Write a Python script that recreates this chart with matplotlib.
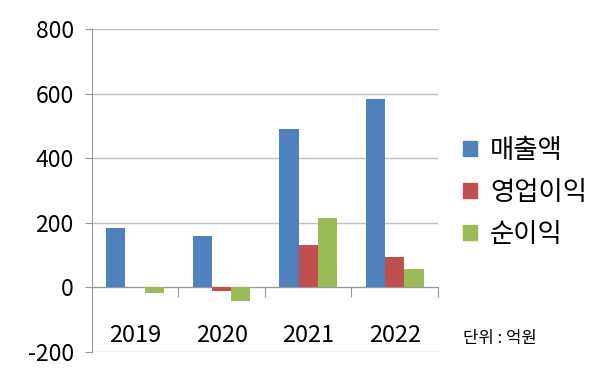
import numpy as np
import matplotlib
matplotlib.use('Agg')
import matplotlib.pyplot as plt
from matplotlib.patches import Patch

plt.rcParams['font.family'] = ['Noto Sans CJK KR', 'DejaVu Sans']
plt.rcParams['axes.unicode_minus'] = False

years = ['2019', '2020', '2021', '2022']
series_names = ['매출액', '영업이익', '순이익']
sales = [183, 158, 490, 582]
op_income = [0, -11, 130, 93]
net_income = [-18, -41, 214, 56]
colors = ['#4F81BD', '#C0504D', '#9BBB59']

fig = plt.figure(figsize=(6, 3.81), dpi=100)
ax = fig.add_axes([0.153, 0.076, 0.577, 0.848])

x = np.arange(len(years))
w = 1 / 4.5
for i, vals in enumerate([sales, op_income, net_income]):
    ax.bar(x + (i - 1) * w, vals, width=w, color=colors[i], zorder=3)

ax.set_xlim(-0.5, 3.5)
ax.set_ylim(-200, 800)
ax.set_yticks(range(-200, 801, 200))
ax.tick_params(axis='y', labelsize=16.5, length=5, color='#989898', pad=8)
ax.yaxis.grid(True, color='#c0c0c0', linewidth=1, zorder=0)

# category axis crosses at zero
ax.spines['bottom'].set_position(('data', 0))
ax.spines['bottom'].set_color('#989898')
ax.spines['left'].set_color('#989898')
ax.spines['top'].set_visible(False)
ax.spines['right'].set_visible(False)
ax.set_xticks([0.5, 1.5, 2.5, 3.5])
ax.set_xticklabels([])
ax.tick_params(axis='x', length=7, color='#989898', direction='out')
for xi, yr in zip(x, years):
    ax.text(xi, -150, yr, ha='center', va='center', fontsize=17)

handles = [Patch(color=c) for c in colors]
fig.legend(handles, series_names, loc='center left', bbox_to_anchor=(0.772, 0.495),
           frameon=False, fontsize=19, handlelength=0.52, handleheight=0.52,
           handletextpad=0.5, labelspacing=0.56, borderpad=0, borderaxespad=0)

fig.text(0.772, 0.1, '단위 : 억원', fontsize=12)

fig.savefig('out.png', dpi=100)
